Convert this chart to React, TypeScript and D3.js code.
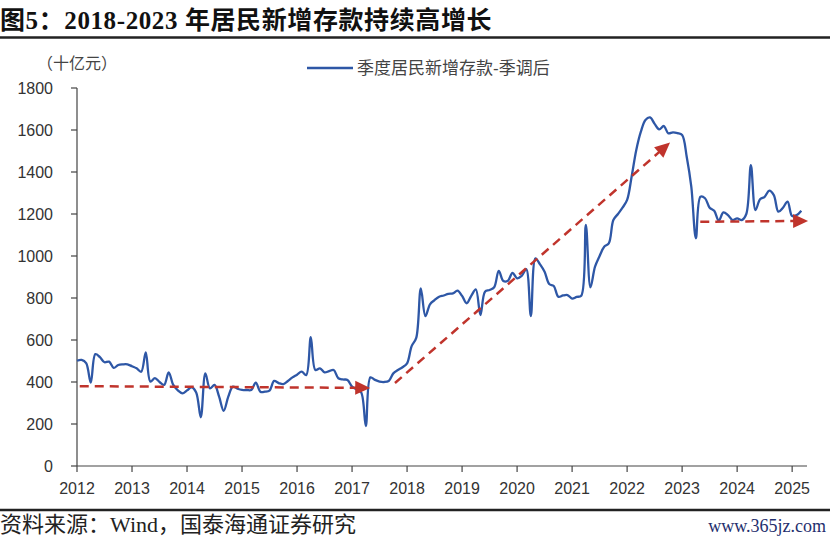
import React from "react";
import * as d3 from "d3";

// Monthly values starting 2012-01 (十亿元)
const startYear = 2012;
const values: number[] = [
  501, 505, 490, 397, 533, 518, 494, 497, 467, 481, 484, 484,
  475, 465, 449, 541, 402, 418, 400, 386, 446, 386, 360, 346,
  360, 375, 350, 232, 441, 370, 386, 330, 263, 330, 378, 368,
  362, 362, 362, 397, 354, 354, 359, 405, 395, 390, 405, 422,
  435, 449, 433, 613, 457, 465, 446, 452, 457, 418, 412, 410,
  378, 365, 350, 190, 422, 410, 402, 400, 405, 441, 457, 470,
  489, 571, 610, 846, 714, 770, 790, 806, 812, 820, 822, 835,
  810, 775, 810, 841, 719, 830, 838, 851, 929, 881, 882, 920,
  894, 905, 937, 714, 989, 960, 925, 867, 857, 806, 812, 814,
  797, 805, 811, 1148, 851, 949, 1000, 1044, 1060, 1171, 1200, 1230,
  1267, 1380, 1505, 1592, 1648, 1660, 1629, 1603, 1619, 1584, 1589, 1585,
  1576, 1473, 1330, 1084, 1282, 1275, 1230, 1215, 1168, 1208, 1195, 1171,
  1179, 1171, 1200, 1433, 1219, 1270, 1282, 1311, 1290, 1211, 1230, 1259,
  1190, 1195, 1216,
];

const yTicks = [0, 200, 400, 600, 800, 1000, 1200, 1400, 1600, 1800];
const xTickYears = [2012, 2013, 2014, 2015, 2016, 2017, 2018, 2019, 2020, 2021, 2022, 2023, 2024, 2025];

// Trend arrows: start (year, value) -> end (year, value)
const arrowStartX = [2012.05, 2017.78, 2023.33];
const arrowStartV = [380, 395, 1163];
const arrowEndX = [2017.33, 2022.78, 2025.29];
const arrowEndV = [372, 1540, 1167];

const title = "图5：2018-2023 年居民新增存款持续高增长";
const unitLabel = "（十亿元）";
const legendLabel = "季度居民新增存款-季调后";
const sourceText = "资料来源：Wind，国泰海通证券研究";
const watermark = "www.365jz.com";

const W = 830;
const H = 544;

export default function App() {
  const x = d3.scaleLinear().domain([2012, 2025.27]).range([77, 807]);
  const y = d3.scaleLinear().domain([0, 1800]).range([466, 88]);

  const pts: [number, number][] = values.map((v, i) => [startYear + i / 12, v]);
  const line = d3
    .line<[number, number]>()
    .x((d) => x(d[0]))
    .y((d) => y(d[1]))
    .curve(d3.curveCatmullRom.alpha(0.5));

  const red = "#C0342C";
  const blue = "#2E57A6";
  const axisColor = "#444";
  const sans = "'Liberation Sans', Arial, 'Noto Sans CJK SC', sans-serif";
  const serif = "'Liberation Serif', 'Times New Roman', 'Noto Sans CJK SC', serif";

  const arrows = arrowStartX.map((sx, i) => {
    const x0 = x(sx);
    const y0 = y(arrowStartV[i]);
    const x1 = x(arrowEndX[i]);
    const y1 = y(arrowEndV[i]);
    const dx = x1 - x0;
    const dy = y1 - y0;
    const len = Math.sqrt(dx * dx + dy * dy);
    const ux = dx / len;
    const uy = dy / len;
    const headL = 15;
    const headW = 7;
    const bx = x1 - ux * headL;
    const by = y1 - uy * headL;
    const px = -uy;
    const py = ux;
    const head = `${x1},${y1} ${bx + px * headW},${by + py * headW} ${bx - px * headW},${by - py * headW}`;
    return { x0, y0, bx: x1 - ux * (headL - 2), by: y1 - uy * (headL - 2), head };
  });

  return (
    <div style={{ position: "absolute", left: 0, top: 0, width: W, height: H, background: "#fff" }}>
      <svg width={W} height={H} viewBox={`0 0 ${W} ${H}`}>
        <rect x={0} y={0} width={W} height={H} fill="#fff" />
        {/* Title */}
        <text x={0} y={29} fontFamily={serif} fontWeight="bold" fontSize={25} letterSpacing={0.6} fill="#111">
          {title}
        </text>
        <line x1={0} x2={W} y1={37.5} y2={37.5} stroke="#222" strokeWidth={2.5} />

        {/* unit and legend */}
        <text x={37} y={69} fontFamily={sans} fontSize={16} fill="#444">
          {unitLabel}
        </text>
        <line x1={307} x2={353} y1={68} y2={68} stroke={blue} strokeWidth={2.5} />
        <text x={357} y={74} fontFamily={sans} fontSize={17} fill="#444">
          {legendLabel}
        </text>

        {/* Y axis */}
        <line x1={x(2012)} x2={x(2012)} y1={y(1800)} y2={y(0)} stroke={axisColor} strokeWidth={1.2} />
        {yTicks.map((t) => (
          <g key={t}>
            <line x1={x(2012) - 6} x2={x(2012)} y1={y(t)} y2={y(t)} stroke={axisColor} strokeWidth={1.2} />
            <text
              x={x(2012) - 24}
              y={y(t)}
              dy="0.35em"
              textAnchor="end"
              fontFamily={sans}
              fontSize={16}
              fill="#333"
            >
              {t}
            </text>
          </g>
        ))}

        {/* X axis */}
        <line x1={x(2012)} x2={x.range()[1]} y1={y(0)} y2={y(0)} stroke={axisColor} strokeWidth={1.2} />
        {xTickYears.map((t) => (
          <g key={t}>
            <line x1={x(t)} x2={x(t)} y1={y(0)} y2={y(0) + 6} stroke={axisColor} strokeWidth={1.2} />
            <text x={x(t)} y={y(0) + 22} dy="0.35em" textAnchor="middle" fontFamily={sans} fontSize={16} fill="#333">
              {t}
            </text>
          </g>
        ))}

        {/* Data line */}
        <path d={line(pts) || ""} fill="none" stroke={blue} strokeWidth={2.3} strokeLinejoin="round" />

        {/* Trend arrows */}
        {arrows.map((a, i) => (
          <g key={i}>
            <line
              x1={a.x0}
              y1={a.y0}
              x2={a.bx}
              y2={a.by}
              stroke={red}
              strokeWidth={2.5}
              strokeDasharray="9 6"
            />
            <polygon points={a.head} fill={red} />
          </g>
        ))}

        {/* Footer */}
        <line x1={0} x2={W} y1={510} y2={510} stroke="#222" strokeWidth={2.5} />
        <text x={0} y={532} fontFamily={serif} fontSize={22} fill="#222">
          {sourceText}
        </text>
        <text x={826} y={532} textAnchor="end" fontFamily={serif} fontSize={18} fill="#1F2F6E">
          {watermark}
        </text>
      </svg>
    </div>
  );
}
